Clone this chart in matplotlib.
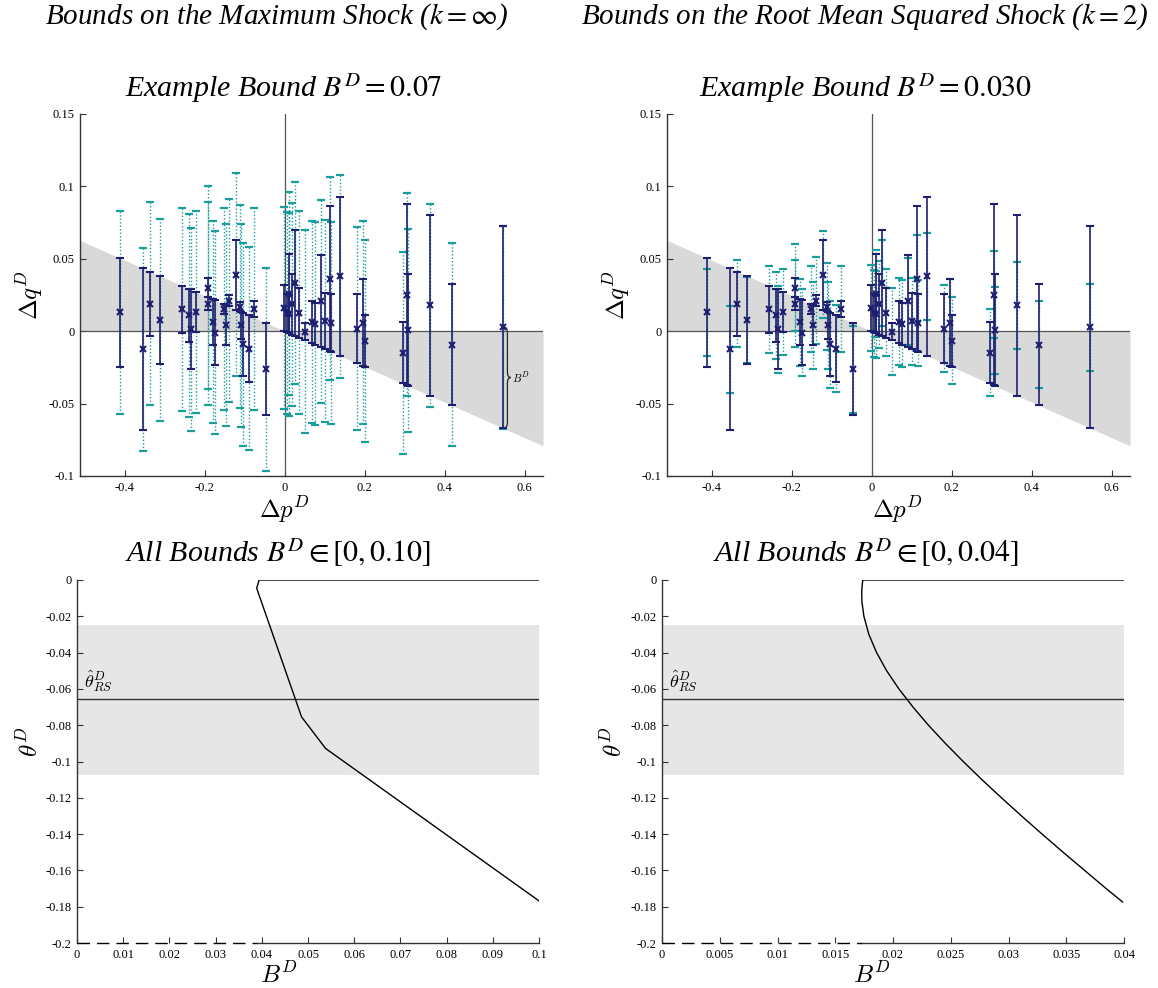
"""
Bounds on shocks: example bounds (top) and all bounds (bottom), k = inf and k = 2.
"""

import numpy as np
import matplotlib
matplotlib.use('Agg')
import matplotlib.pyplot as plt
from matplotlib.path import Path
from matplotlib.patches import PathPatch

plt.rcParams['font.family'] = ['Liberation Serif', 'DejaVu Serif']
plt.rcParams['mathtext.fontset'] = 'stix'

# Colors
C_NAVY = '#1f1f72'
C_TEAL = '#1a9e9c'
C_SHADE = '#d9d9d9'
C_BAND = '#e6e6e6'
C_AXIS = '#555555'

# === Data: price / quantity changes and required shocks ===
dp = [-0.413, -0.355, -0.336, -0.313, -0.256, -0.240, -0.235, -0.221, -0.191, -0.191,
      -0.180, -0.174, -0.153, -0.146, -0.140, -0.122, -0.113, -0.109, -0.105, -0.090,
      -0.078, -0.046, -0.003, 0.006, 0.010, 0.011, 0.019, 0.025, 0.036, 0.051,
      0.067, 0.075, 0.090, 0.100, 0.114, 0.115, 0.139, 0.182, 0.195, 0.201,
      0.295, 0.305, 0.309, 0.364, 0.418, 0.545]
dq = [0.0130, -0.0125, 0.0190, 0.0077, 0.0150, 0.0110, 0.0012, 0.0133, 0.0300, 0.0190,
      0.0063, -0.0010, 0.0153, 0.0042, 0.0210, 0.0390, 0.0170, 0.0040, -0.0090, -0.0120,
      0.0153, -0.0263, 0.0160, 0.0125, 0.0260, 0.0117, 0.0185, 0.0333, 0.0127, -0.0003,
      0.0064, 0.0052, 0.0207, 0.0070, 0.0363, 0.0057, 0.0380, 0.0018, 0.0060, -0.0067,
      -0.0150, 0.0253, 0.0007, 0.0178, -0.0092, 0.0028]
# half-length of the navy bars (shock needed to reach the example line)
need = [0.0376, 0.0560, 0.0222, 0.0306, 0.0164, 0.0184, 0.0276, 0.0138, 0.0066, 0.0044,
        0.0158, 0.0223, 0.0034, 0.0137, 0.0038, 0.0241, 0.0032, 0.0094, 0.0219, 0.0230,
        0.0057, 0.0319, 0.0156, 0.0132, 0.0272, 0.0130, 0.0208, 0.0364, 0.0171, 0.0059,
        0.0146, 0.0144, 0.0317, 0.0193, 0.0503, 0.0198, 0.0550, 0.0241, 0.0299, 0.0179,
        0.0211, 0.0627, 0.0386, 0.0624, 0.0420, 0.0696]
theta_example = -0.1225
bound_max = 0.07
bound_rms = 0.030

# bottom panels
theta_hat = -0.0658
band_lo, band_hi = -0.1072, -0.0248

max_B = [0.1, 0.0394, 0.0389, 0.0486, 0.0538, 0.1]
max_theta = [0.0, 0.0, -0.0046, -0.0754, -0.0928, -0.1768]
max_empty_end = 0.0389

rms_B = [0.04, 0.01738, 0.01730, 0.01729, 0.01731, 0.01748, 0.01791, 0.01858, 0.01945,
         0.02051, 0.02173, 0.02307, 0.02453, 0.02608, 0.02770, 0.02939, 0.03113, 0.03291,
         0.03473, 0.03659, 0.03845, 0.03988]
rms_theta = [0.0, 0.0, -0.005, -0.008, -0.012, -0.02, -0.03, -0.04, -0.05,
             -0.06, -0.07, -0.08, -0.09, -0.10, -0.11, -0.12, -0.13, -0.14,
             -0.15, -0.16, -0.17, -0.1774]
rms_empty_end = 0.01729

top_xticks = [-0.4, -0.2, 0, 0.2, 0.4, 0.6]
top_xlabels = ['-0.4', '-0.2', '0', '0.2', '0.4', '0.6']
top_yticks = [-0.1, -0.05, 0, 0.05, 0.1, 0.15]
top_ylabels = ['-0.1', '-0.05', '0', '0.05', '0.1', '0.15']
bot_yticks = [0, -0.02, -0.04, -0.06, -0.08, -0.1, -0.12, -0.14, -0.16, -0.18, -0.2]
bot_ylabels = ['0', '-0.02', '-0.04', '-0.06', '-0.08', '-0.1', '-0.12', '-0.14', '-0.16', '-0.18', '-0.2']
bl_xticks = [0, 0.01, 0.02, 0.03, 0.04, 0.05, 0.06, 0.07, 0.08, 0.09, 0.1]
bl_xlabels = ['0', '0.01', '0.02', '0.03', '0.04', '0.05', '0.06', '0.07', '0.08', '0.09', '0.1']
br_xticks = [0, 0.005, 0.01, 0.015, 0.02, 0.025, 0.03, 0.035, 0.04]
br_xlabels = ['0', '0.005', '0.01', '0.015', '0.02', '0.025', '0.03', '0.035', '0.04']

W, H = 1158, 988
fig = plt.figure(figsize=(W / 100, H / 100), dpi=100)
fig.patch.set_facecolor('white')


def px_axes(x0, y0, x1, y1):
    return fig.add_axes([x0 / W, 1 - y1 / H, (x1 - x0) / W, (y1 - y0) / H])


def style_axes(ax, xt, xl, yt, yl):
    for s in ['top', 'right']:
        ax.spines[s].set_visible(False)
    for s in ['left', 'bottom']:
        ax.spines[s].set_linewidth(1.0)
        ax.spines[s].set_color('#333333')
    ax.set_xticks(xt)
    ax.set_xticklabels(xl)
    ax.set_yticks(yt)
    ax.set_yticklabels(yl)
    ax.tick_params(direction='in', length=4, width=0.8, labelsize=9, pad=4, color='#333333')


def draw_brace(ax, x, y0, y1, w, r):
    ym = (y0 + y1) / 2
    xm = x + w / 2
    verts = [(x, y0), (xm, y0), (xm, y0 - r),
             (xm, ym + r), (xm, ym), (x + w, ym),
             (xm, ym), (xm, ym - r),
             (xm, y1 + r), (xm, y1), (x, y1)]
    codes = [Path.MOVETO, Path.CURVE3, Path.CURVE3,
             Path.LINETO, Path.CURVE3, Path.CURVE3,
             Path.CURVE3, Path.CURVE3,
             Path.LINETO, Path.CURVE3, Path.CURVE3]
    ax.add_patch(PathPatch(Path(verts, codes), fill=False, edgecolor='#222222', lw=0.9))


def example_panel(ax, bound, brace=False):
    xlim = (-0.512, 0.646)
    ax.set_xlim(*xlim)
    ax.set_ylim(-0.1, 0.15)
    xs = np.array(xlim)
    ax.fill_between(xs, 0, theta_example * xs, color=C_SHADE, lw=0, zorder=1)
    ax.axhline(0, color=C_AXIS, lw=0.9, zorder=2)
    ax.axvline(0, color=C_AXIS, lw=0.9, zorder=2)
    cy = ax.errorbar(dp, dq, yerr=bound, fmt='none', ecolor=C_TEAL, elinewidth=1.0,
                     capsize=2.6, capthick=1.6, zorder=3)
    cy[2][0].set_linestyle((0, (1, 1.5)))
    ax.errorbar(dp, dq, yerr=need, fmt='x', color=C_NAVY, ecolor=C_NAVY, ms=4, mew=1.5,
                elinewidth=1.2, capsize=2.6, capthick=1.2, zorder=4)
    if brace:
        i = len(dp) - 1
        draw_brace(ax, dp[i] + 0.004, dq[i], dq[i] - need[i], 0.016, 0.004)
        ax.text(dp[i] + 0.024, dq[i] - need[i] / 2, r'$B^D$', fontsize=8,
                ha='left', va='center', math_fontfamily='cm')
    style_axes(ax, top_xticks, top_xlabels, top_yticks, top_ylabels)


def bounds_panel(ax, xmax, B, th, empty_end, xt, xl):
    ax.set_xlim(0, xmax)
    ax.set_ylim(-0.2, 0)
    ax.axhspan(band_lo, band_hi, color=C_BAND, lw=0, zorder=1)
    ax.axhline(theta_hat, color='#333333', lw=1.0, zorder=2)
    ax.plot(B, th, color='black', lw=1.0, zorder=3)
    ax.plot([0, empty_end], [-0.2, -0.2], color='black', lw=1.0, dashes=(9, 5),
            clip_on=False, zorder=4)
    ax.plot([empty_end, xmax], [-0.2, -0.2], color='#333333', lw=1.0,
            clip_on=False, zorder=4)
    ax.text(xmax * 0.016, theta_hat + 0.003, r'$\hat{\theta}^D_{RS}$', fontsize=13,
            ha='left', va='bottom', math_fontfamily='cm')
    style_axes(ax, xt, xl, bot_yticks, bot_ylabels)
    ax.spines['bottom'].set_visible(False)


# === Top row ===
ax1 = px_axes(80, 114, 543, 476)
example_panel(ax1, bound_max, brace=True)
ax2 = px_axes(667, 114, 1130, 476)
example_panel(ax2, bound_rms)

# === Bottom row ===
ax3 = px_axes(77, 580, 539, 943)
bounds_panel(ax3, 0.1, max_B, max_theta, max_empty_end, bl_xticks, bl_xlabels)
ax4 = px_axes(662, 580, 1124, 943)
bounds_panel(ax4, 0.04, rms_B, rms_theta, rms_empty_end, br_xticks, br_xlabels)

# === Titles and labels ===
def ftext(x, y, s, **kw):
    fig.text(x / W, 1 - y / H, s, ha='center', va='center', **kw)

ftext(277, 17, r'Bounds on the Maximum Shock ($k = \infty$)', fontsize=21, style='italic')
ftext(865, 17, r'Bounds on the Root Mean Squared Shock ($k = 2$)', fontsize=21, style='italic')
ftext(284, 88, r'Example Bound $B^D = 0.07$', fontsize=21.5, style='italic')
ftext(866, 88, r'Example Bound $B^D = 0.030$', fontsize=21.5, style='italic')
ftext(278, 553, r'All Bounds $B^D \in [0, 0.10]$', fontsize=21.5, style='italic')
ftext(866, 553, r'All Bounds $B^D \in [0, 0.04]$', fontsize=21.5, style='italic')

ftext(285, 510, r'$\Delta p^D$', fontsize=18, math_fontfamily='cm')
ftext(898, 510, r'$\Delta p^D$', fontsize=18, math_fontfamily='cm')
ftext(279, 975, r'$B^D$', fontsize=18, math_fontfamily='cm')
ftext(872, 975, r'$B^D$', fontsize=18, math_fontfamily='cm')
ftext(30, 295, r'$\Delta q^D$', fontsize=18, rotation=90, math_fontfamily='cm')
ftext(617, 295, r'$\Delta q^D$', fontsize=18, rotation=90, math_fontfamily='cm')
ftext(30, 742, r'$\theta^D$', fontsize=18, rotation=90, math_fontfamily='cm')
ftext(614, 742, r'$\theta^D$', fontsize=18, rotation=90, math_fontfamily='cm')

plt.savefig('out.png', dpi=100, facecolor='white')
